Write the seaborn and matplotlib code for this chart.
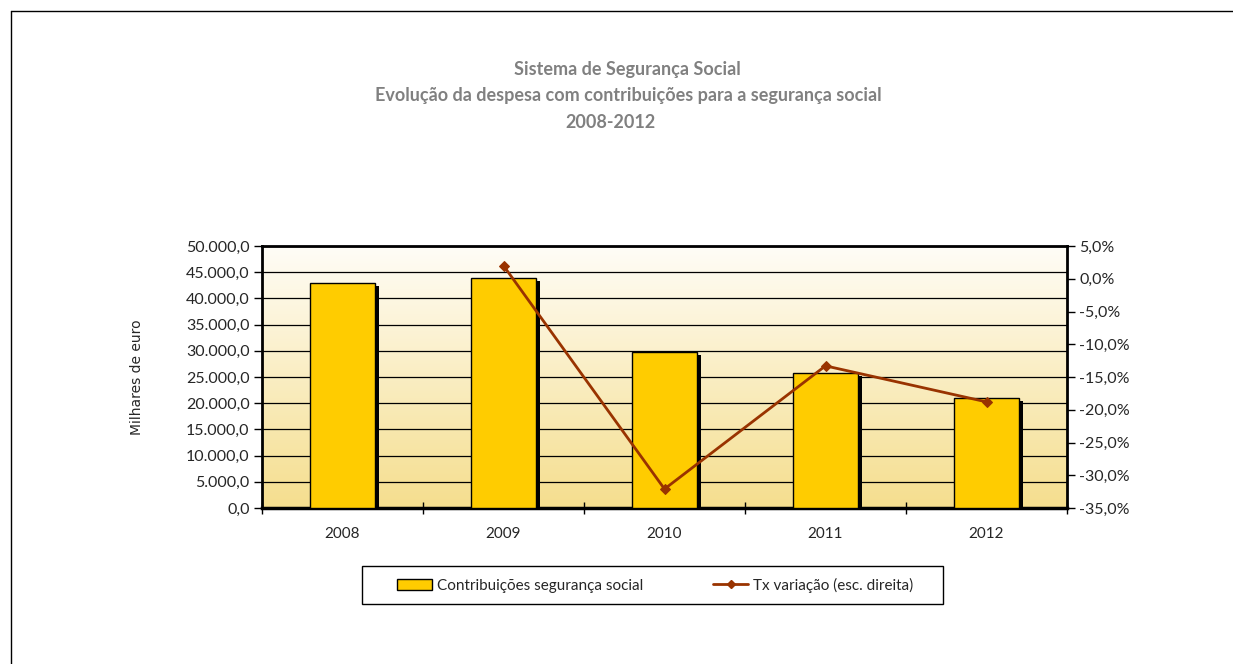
import numpy as np
import pandas as pd
import matplotlib
matplotlib.use('Agg')
import matplotlib.pyplot as plt
import matplotlib.patheffects as pe
from matplotlib.patches import Rectangle, Patch
from matplotlib.lines import Line2D
from matplotlib.ticker import FuncFormatter, FixedLocator
import seaborn as sns

# Chart data
years = ['2008', '2009', '2010', '2011', '2012']
contributions = [42900, 43800, 29700, 25800, 20900]   # milhares de euro
rate_years = ['2009', '2010', '2011', '2012']
rate_change = [2.0, -32.1, -13.3, -18.8]              # %

title_lines = ['Sistema de Segurança Social',
               'Evolução da despesa com contribuições para a segurança social',
               '2008-2012']
bar_label = 'Contribuições segurança social'
line_label = 'Tx variação (esc. direita)'
y_label = 'Milhares de euro'

sns.set_style('white')
plt.rcParams['font.family'] = ['Lato', 'DejaVu Sans']

bar_color = '#FFCC00'
line_color = '#993300'

fig = plt.figure(figsize=(12.33, 6.64), dpi=100)
ax = fig.add_axes([262 / 1233, 1 - 508 / 664, 805 / 1233, 262 / 664])

df = pd.DataFrame({'year': years, 'value': contributions})
sns.barplot(data=df, x='year', y='value', color=bar_color, width=0.4,
            edgecolor='black', linewidth=1, saturation=1, ax=ax, zorder=3)
for bar in ax.patches:
    bar.set_path_effects([pe.SimplePatchShadow(offset=(3, -2), shadow_rgbFace='black', alpha=1),
                          pe.Normal()])

# gradient background
ax.set_xlim(-0.5, len(years) - 0.5)
ax.set_ylim(0, 50000)
top = np.array([255, 253, 247]) / 255
bottom = np.array([245, 222, 142]) / 255
t = np.linspace(0, 1, 256)[:, None]
grad = (top * (1 - t) + bottom * t)[:, None, :]
ax.imshow(grad, extent=[-0.5, len(years) - 0.5, 0, 50000], aspect='auto', zorder=0)

ax.set_yticks(np.arange(0, 50001, 5000))
ax.yaxis.set_major_formatter(FuncFormatter(
    lambda v, p: f'{v:,.1f}'.replace(',', 'X').replace('.', ',').replace('X', '.')))
ax.yaxis.grid(True, color='black', linewidth=0.9)
ax.set_axisbelow(True)
ax.set_xlabel('')
ax.set_ylabel(y_label, fontsize=10, family='DejaVu Sans', labelpad=30)
ax.tick_params(axis='y', which='major', length=6, width=1, color='black',
               labelsize=11.5, pad=3, left=True)
ax.tick_params(axis='x', which='major', length=0, labelsize=11, pad=14)
ax.xaxis.set_minor_locator(FixedLocator(np.arange(-0.5, len(years), 1)))
ax.tick_params(axis='x', which='minor', length=8, width=1, color='black',
               bottom=True, direction='inout')
for side, lw in [('left', 2), ('bottom', 2.5), ('top', 2), ('right', 2)]:
    ax.spines[side].set_visible(True)
    ax.spines[side].set_color('black')
    ax.spines[side].set_linewidth(lw)

# right axis: rate of change
ax2 = ax.twinx()
pos = [years.index(y) for y in rate_years]
sns.lineplot(x=pos, y=rate_change, ax=ax2, color=line_color, linewidth=2,
             marker='D', markersize=5, markeredgecolor=line_color)
ax2.set_ylim(-35, 5)
ax2.set_yticks(np.arange(-35, 5.1, 5))
ax2.yaxis.set_major_formatter(FuncFormatter(lambda v, p: f'{v:.1f}%'.replace('.', ',')))
ax2.tick_params(axis='y', length=6, width=1, color='black', labelsize=11.5, pad=3, right=True)
ax2.set_ylabel('')
for side in ['left', 'bottom', 'top', 'right']:
    ax2.spines[side].set_visible(False)

# titles
title_kw = dict(ha='center', va='center', fontsize=13, fontweight='bold', color='#808080')
fig.text(627 / 1233, 1 - 70 / 664, title_lines[0], **title_kw)
fig.text(628 / 1233, 1 - 96 / 664, title_lines[1], **title_kw)
fig.text(610 / 1233, 1 - 122 / 664, title_lines[2], **title_kw)

# legend with its own frame
fig.add_artist(Rectangle((362 / 1233, 1 - 604 / 664), 581 / 1233, 38 / 664,
                         transform=fig.transFigure, fill=False, edgecolor='black', linewidth=1))
handles = [Patch(facecolor=bar_color, edgecolor='black', linewidth=1),
           Line2D([], [], color=line_color, linewidth=2, marker='D', markersize=4)]
fig.legend(handles, [bar_label, line_label], loc='center', ncol=2, frameon=False,
           bbox_to_anchor=(655 / 1233, 1 - 585 / 664), fontsize=11,
           handlelength=2.3, handletextpad=0.3, columnspacing=4.6)

# outer border of the chart area
fig.add_artist(Line2D([11 / 1233, 1], [1 - 11 / 664, 1 - 11 / 664], transform=fig.transFigure,
                      color='black', linewidth=1))
fig.add_artist(Line2D([11 / 1233, 11 / 1233], [0, 1 - 11 / 664], transform=fig.transFigure,
                      color='black', linewidth=1))

fig.savefig('out.png', dpi=100, facecolor='white')
